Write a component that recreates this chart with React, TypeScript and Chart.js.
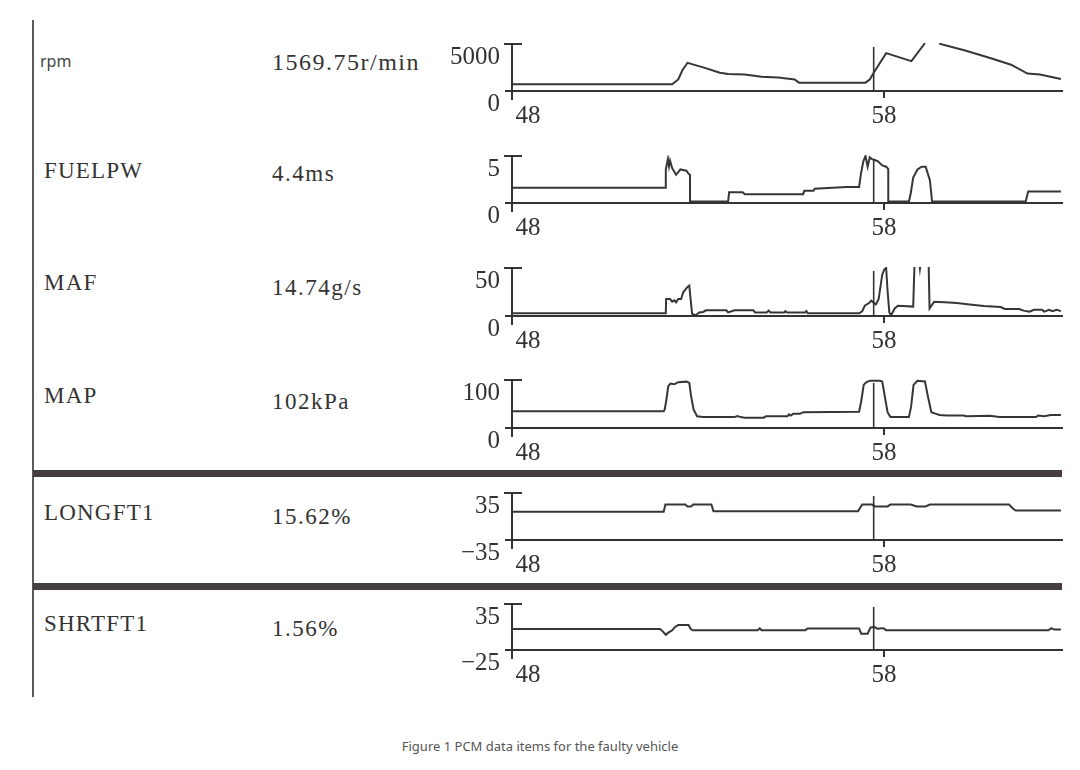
import React, { useEffect, useRef } from "react";
import { Chart, registerables } from "chart.js";

Chart.register(...registerables);

type P = [number, number];

// ---------- data ----------
const X_MIN = 47.55;
const X_MAX = 63.0;
const X_TICKS = [48, 58];
const CURSOR_T = 57.71;

const PARAM_NAMES = ["rpm", "FUELPW", "MAF", "MAP", "LONGFT1", "SHRTFT1"];
const PARAM_VALUES = ["1569.75r/min", "4.4ms", "14.74g/s", "102kPa", "15.62%", "1.56%"];
const Y_MINS = [0, 0, 0, 0, -35, -25];
const Y_MAXS = [5000, 5, 50, 100, 35, 35];

const rpmData: P[] = [
  [47.55, 714], [52.05, 714], [52.22, 1229], [52.34, 2229], [52.48, 3000],
  [52.92, 2514], [53.39, 1943], [53.62, 1800], [54.09, 1743], [54.56, 1514],
  [55.03, 1429], [55.49, 1229], [55.61, 886], [57.48, 886], [57.6, 1229],
  [57.72, 2000], [58.06, 4029], [58.77, 3171], [59.12, 4943], [59.3, 6500],
  [59.45, 6500], [59.58, 5000], [60.28, 4314], [60.98, 3514], [61.57, 2800],
  [62.03, 1857], [62.38, 1743], [62.97, 1286],
];

const fuelData: P[] = [
  [47.55, 1.63], [51.87, 1.63], [51.87, 3.57], [51.93, 4.7], [51.96, 3.9],
  [51.99, 4.5], [52.05, 3.7], [52.16, 3.0], [52.28, 3.57], [52.45, 3.43],
  [52.51, 3.1], [52.55, 3.0], [52.55, 0.15], [53.62, 0.15], [53.65, 1.14],
  [54.03, 1.14], [54.09, 0.94], [55.73, 0.94], [55.76, 1.29], [56.02, 1.29],
  [56.05, 1.51], [56.95, 1.71], [57.3, 1.71], [57.36, 3.29], [57.42, 4.43],
  [57.48, 5.0], [57.54, 3.86], [57.6, 4.86], [57.65, 4.7], [57.74, 4.57],
  [57.83, 4.43], [57.95, 4.0], [58.06, 3.86], [58.12, 3.6], [58.12, 0.15],
  [58.7, 0.15], [58.75, 1.0], [58.82, 2.71], [58.94, 3.57], [59.06, 3.86],
  [59.17, 3.86], [59.29, 2.4], [59.35, 0.15], [61.98, 0.15], [62.05, 1.23],
  [62.97, 1.23],
];

const mafData: P[] = [
  [47.55, 2.8], [51.87, 2.8], [51.88, 17.7], [51.99, 17.7], [52.05, 14.9],
  [52.11, 16.3], [52.16, 14.3], [52.22, 17.7], [52.3, 17.7], [52.36, 24.7],
  [52.42, 27.5], [52.48, 30.3], [52.53, 31.7], [52.56, 20], [52.61, 2.2],
  [52.71, 0.8], [52.81, 3.7], [52.92, 4.2], [53.0, 5.9], [53.57, 5.9],
  [53.62, 3.7], [53.8, 5.9], [54.33, 5.9], [54.38, 3.7], [54.7, 3.7],
  [54.76, 5.6], [54.81, 3.7], [55.2, 3.7], [55.23, 5.1], [55.28, 3.7],
  [55.78, 3.7], [55.82, 5.1], [55.86, 2.8], [57.31, 2.8], [57.39, 5.1],
  [57.46, 10.7], [57.58, 13.5], [57.64, 16], [57.77, 12], [57.85, 17.7],
  [57.95, 43], [58.01, 48.6], [58.06, 50], [58.1, 26], [58.15, 3.7],
  [58.2, 0.8], [58.3, 7.9], [58.39, 10.7], [58.82, 9.8], [58.86, 58],
  [58.98, 60], [59.01, 49.5], [59.05, 60], [59.25, 60], [59.28, 7.9],
  [59.41, 14.9], [59.7, 14.3], [60.05, 13.5], [60.4, 12.1], [60.81, 10.5],
  [61.28, 9.3], [61.39, 7.3], [61.8, 7.3], [61.92, 5.6], [62.09, 4.5],
  [62.21, 6.5], [62.44, 6.5], [62.5, 4.5], [62.64, 6.5], [62.73, 5.1],
  [62.85, 6.5], [62.97, 5.1],
];

const mapData: P[] = [
  [47.55, 34.7], [51.81, 34.7], [51.84, 38.6], [51.88, 55.7], [51.94, 87],
  [52.0, 92.6], [52.11, 91], [52.22, 95.5], [52.45, 96.6], [52.53, 94],
  [52.58, 67], [52.65, 38.6], [52.75, 24.4], [52.92, 22.7], [53.8, 22.7],
  [53.88, 25], [53.97, 22.7], [54.09, 21.6], [54.62, 21.6], [54.68, 24.4],
  [55.29, 24.4], [55.33, 28.4], [55.38, 26], [55.45, 29.5], [55.64, 29.5],
  [55.73, 33], [57.3, 34], [57.36, 55.7], [57.43, 89.8], [57.5, 95],
  [57.6, 98.5], [57.89, 98.5], [57.95, 97], [58.02, 67], [58.1, 33],
  [58.18, 22.7], [58.7, 22.7], [58.76, 44], [58.83, 89.8], [58.94, 98.5],
  [59.15, 97], [59.23, 67], [59.33, 33], [59.44, 30], [59.56, 27],
  [59.76, 26], [60.23, 26], [60.31, 24.4], [60.98, 25.5], [61.24, 22.7],
  [62.27, 22.7], [62.33, 26], [62.5, 24.4], [62.68, 27], [62.97, 27],
];

const longFtData: P[] = [
  [47.55, 7], [51.81, 7], [51.86, 17.8], [52.42, 17.8], [52.48, 15],
  [52.58, 15], [52.64, 17.8], [53.15, 17.8], [53.21, 8], [57.27, 8],
  [57.33, 13], [57.39, 17.8], [57.66, 17.8], [57.75, 15], [58.1, 15],
  [58.18, 17.8], [58.75, 17.8], [58.92, 15], [59.17, 15], [59.29, 17.8],
  [61.51, 17.8], [61.62, 12], [61.7, 9], [62.97, 9],
];

const shortFtData: P[] = [
  [47.55, 2.4], [51.71, 2.4], [51.79, -1], [51.87, -5.1], [51.93, -2.7],
  [52.05, 0.7], [52.11, 4], [52.16, 5.9], [52.22, 7.6], [52.51, 7.6],
  [52.57, 2.4], [52.63, 0.7], [54.45, 0.7], [54.51, 3.1], [54.56, 0.7],
  [55.79, 0.7], [55.85, 3.1], [57.3, 3.1], [57.36, -3.7], [57.54, -3.7],
  [57.62, 4.1], [57.72, 5.2], [57.83, 2.4], [57.92, 3.5], [58.0, 3.1],
  [58.06, 0.7], [62.62, 0.7], [62.7, 3.5], [62.78, 1.7], [62.97, 1.7],
];

const SERIES = [rpmData, fuelData, mafData, mapData, longFtData, shortFtData];

// ---------- layout ----------
const AXIS_TOPS = [33, 145, 257, 369, 482, 593];
const BASELINES = [91, 203, 316, 428, 540, 650];
const NAME_Y = [63, 172, 284, 397, 514, 625];
const VALUE_Y = [63, 175, 289, 403, 518, 630];

const SERIF = "'Liberation Serif', 'Times New Roman', serif";
const SANS = "'Noto Sans', 'Open Sans', sans-serif";
const INK = "#333333";
const AXIS = "#333333";

const CANVAS_LEFT = 420;
const CANVAS_W = 660;
const PAD_TOP = 16;
const PAD_RIGHT = 18;
const X_AXIS_H = 40;
const Y_AXIS_W = 92;

const decor = {
  id: "decor",
  afterDraw(chart: any) {
    const { ctx, chartArea, scales } = chart;
    const { left, top, bottom } = chartArea;
    ctx.save();
    ctx.strokeStyle = AXIS;
    ctx.lineWidth = 2;
    ctx.beginPath();
    ctx.moveTo(left - 8, top);
    ctx.lineTo(left + 10, top);
    ctx.moveTo(left, bottom);
    ctx.lineTo(left, bottom + 9);
    ctx.moveTo(left - 7, bottom);
    ctx.lineTo(left, bottom);
    ctx.stroke();
    const cx = scales.x.getPixelForValue(CURSOR_T);
    ctx.lineWidth = 1.6;
    ctx.beginPath();
    ctx.moveTo(cx, top + 3);
    ctx.lineTo(cx, bottom);
    ctx.stroke();
    ctx.restore();
  },
};

const fmt = (v: number) => (v < 0 ? "\u2212" + Math.abs(v) : String(v));

function Panel({ idx }: { idx: number }) {
  const ref = useRef<HTMLCanvasElement>(null);
  const top = AXIS_TOPS[idx];
  const base = BASELINES[idx];
  const h = base - top + PAD_TOP + X_AXIS_H;
  useEffect(() => {
    const yMin = Y_MINS[idx];
    const yMax = Y_MAXS[idx];
    const chart = new Chart(ref.current as HTMLCanvasElement, {
      type: "line",
      data: {
        datasets: [
          {
            data: SERIES[idx].map(([x, y]) => ({ x, y })),
            borderColor: "#363636",
            borderWidth: 2,
            pointRadius: 0,
            tension: 0,
            fill: false,
            clip: 1,
          } as any,
        ],
      },
      options: {
        animation: false,
        responsive: false,
        events: [],
        layout: {
          padding: { left: 0, right: PAD_RIGHT, top: PAD_TOP, bottom: 0 },
          autoPadding: false,
        } as any,
        plugins: { legend: { display: false }, tooltip: { enabled: false } },
        scales: {
          x: {
            type: "linear",
            min: X_MIN,
            max: X_MAX,
            afterBuildTicks: (s: any) => {
              s.ticks = X_TICKS.map((v) => ({ value: v }));
            },
            afterFit: (s: any) => {
              s.height = X_AXIS_H;
            },
            grid: {
              drawOnChartArea: false,
              drawTicks: true,
              tickLength: 7,
              lineWidth: 2,
              color: (c: any) =>
                c.tick && c.tick.value !== X_TICKS[0] ? AXIS : "rgba(0,0,0,0)",
            },
            border: { display: true, color: AXIS, width: 2 },
            ticks: {
              autoSkip: false,
              maxRotation: 0,
              padding: 3,
              color: INK,
              font: { family: SERIF, size: 25 },
            },
          },
          y: {
            type: "linear",
            min: yMin,
            max: yMax,
            afterBuildTicks: (s: any) => {
              s.ticks = [{ value: yMin }, { value: yMax }];
            },
            afterFit: (s: any) => {
              s.width = Y_AXIS_W;
            },
            grid: { drawOnChartArea: false, drawTicks: false },
            border: { display: true, color: AXIS, width: 2 },
            ticks: {
              padding: 12,
              labelOffset: 13,
              color: INK,
              font: { family: SERIF, size: 25 },
              callback: (v: any) => fmt(Number(v)),
            },
          },
        },
      } as any,
      plugins: [decor],
    });
    return () => chart.destroy();
  }, [idx]);
  return (
    <canvas
      ref={ref}
      width={CANVAS_W}
      height={h}
      style={{
        position: "absolute",
        left: CANVAS_LEFT,
        top: top - PAD_TOP,
        width: CANVAS_W,
        height: h,
      }}
    />
  );
}

export default function App() {
  return (
    <div
      style={{
        position: "absolute",
        left: 0,
        top: 0,
        width: 1080,
        height: 770,
        background: "#ffffff",
        overflow: "hidden",
      }}
    >
      {/* left rule */}
      <div style={{ position: "absolute", left: 32, top: 20, width: 2, height: 677, background: "#5a5a5a" }} />
      {/* thick separators */}
      <div style={{ position: "absolute", left: 33, top: 470, width: 1029, height: 7, background: "#463d40" }} />
      <div style={{ position: "absolute", left: 33, top: 583, width: 1029, height: 7, background: "#463d40" }} />

      {PARAM_NAMES.map((n, i) => (
        <div
          key={"n" + i}
          style={{
            position: "absolute",
            left: i === 0 ? 40 : 44,
            top: NAME_Y[i] - (i === 0 ? 10 : 13),
            fontFamily: i === 0 ? SANS : SERIF,
            fontSize: i === 0 ? 16 : 23,
            letterSpacing: i === 0 ? 0 : 1.2,
            lineHeight: 1,
            color: i === 0 ? "#444444" : INK,
            whiteSpace: "nowrap",
          }}
        >
          {n}
        </div>
      ))}
      {PARAM_VALUES.map((v, i) => (
        <div
          key={"v" + i}
          style={{
            position: "absolute",
            left: 272,
            top: VALUE_Y[i] - 13,
            fontFamily: SERIF,
            fontSize: i === 0 ? 24 : 23,
            letterSpacing: 1.5,
            lineHeight: 1,
            color: INK,
            whiteSpace: "nowrap",
          }}
        >
          {v}
        </div>
      ))}

      {SERIES.map((_, i) => (
        <Panel key={"p" + i} idx={i} />
      ))}

      <div
        style={{
          position: "absolute",
          left: 0,
          width: 1080,
          top: 737,
          textAlign: "center",
          fontFamily: SANS,
          fontSize: 13,
          lineHeight: "18px",
          color: "#555555",
        }}
      >
        Figure 1 PCM data items for the faulty vehicle
      </div>
    </div>
  );
}
